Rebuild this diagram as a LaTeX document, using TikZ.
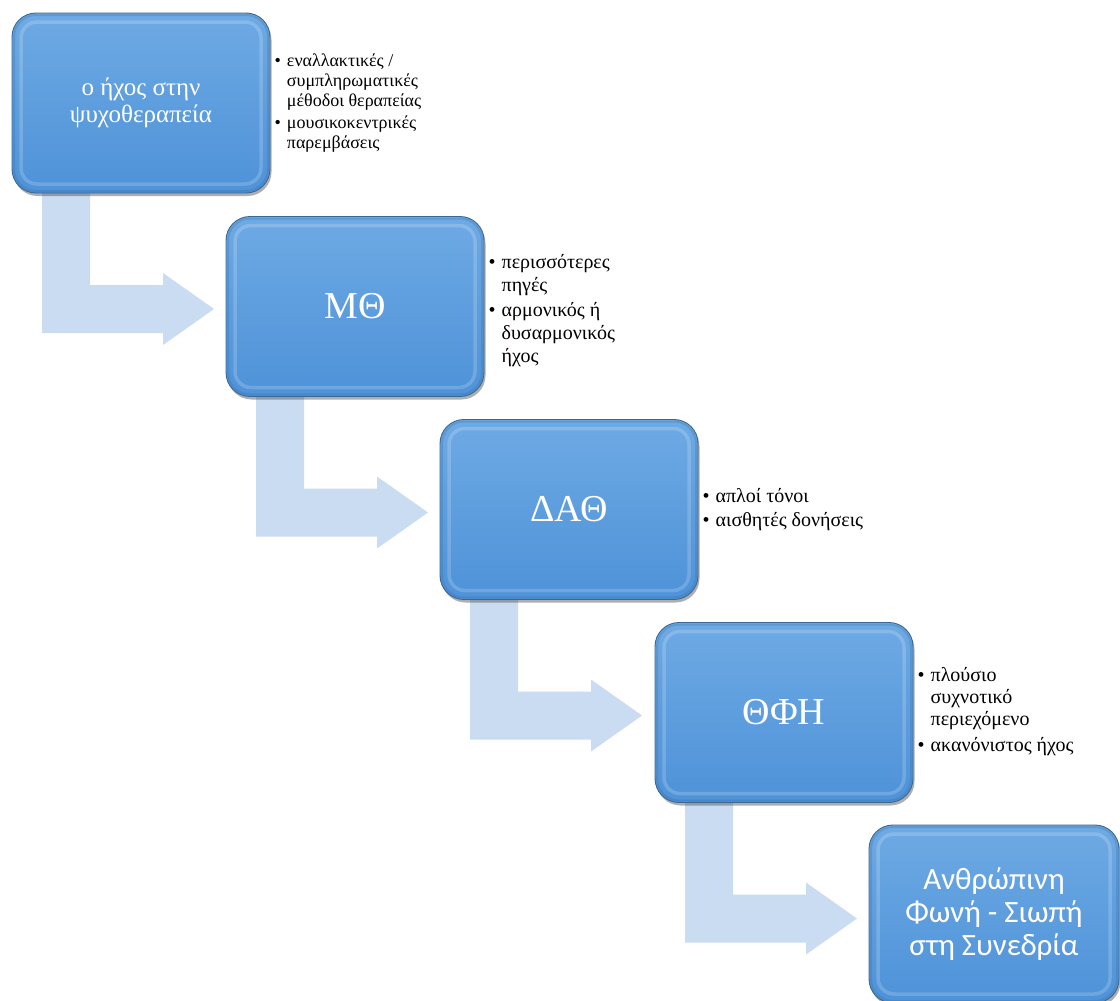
\documentclass[tikz,border=0pt]{standalone}
\usepackage{fontspec}
\setmainfont{Liberation Serif}
\newfontfamily\carlito{Carlito}
\usetikzlibrary{shadows,calc}
\definecolor{arrowfill}{RGB}{202,220,242}
\definecolor{boxtop}{RGB}{110,170,228}
\definecolor{boxbot}{RGB}{78,146,216}
\definecolor{boxedge}{RGB}{58,104,150}
\tikzset{
  stagebox/.style={draw=boxedge, line width=0.9pt, rounded corners=24pt,
    top color=boxtop, bottom color=boxbot, minimum width=258pt, minimum height=180pt,
    text=white, align=center, inner sep=0pt,
    drop shadow={shadow xshift=1.5pt, shadow yshift=-3pt, opacity=.45, fill=black!70},
    path picture={
      \draw[white, opacity=.18, line width=3.5pt, rounded corners=16pt]
        ([xshift=9pt,yshift=-9pt]path picture bounding box.north west) rectangle
        ([xshift=-9pt,yshift=9pt]path picture bounding box.south east);
      \draw[boxedge, opacity=.25, line width=2pt, rounded corners=22pt]
        ([xshift=2pt,yshift=-2pt]path picture bounding box.north west) rectangle
        ([xshift=-2pt,yshift=2pt]path picture bounding box.south east);
    }},
  bigtxt/.style={font=\fontsize{38}{40}\selectfont},
  bullets/.style={anchor=west, inner sep=0pt, align=left, text=black},
  bentarrow/.style={fill=arrowfill, draw=none}
}
\begin{document}
\begin{tikzpicture}[x=1pt,y=-1pt]
\useasboundingbox[fill=white] (0,0) rectangle (1120,1001);

\path (141,103) coordinate (c1) (355,306.5) coordinate (c2) (569,509.5) coordinate (c3)
      (784,712.5) coordinate (c4);

% bent arrows (behind boxes)
\foreach \c in {c1,c2,c3,c4}{
  \fill[bentarrow, shift={(\c)}]
    (-99,40) -- (-51,40) -- (-51,182) -- (22,182) -- (22,170) -- (73,206)
    -- (22,242) -- (22,230) -- (-99,230) -- cycle;
}

\node[stagebox, font=\fontsize{25}{27}\selectfont] (b1) at (c1) {ο ήχος στην\\ψυχοθεραπεία};
\node[stagebox, bigtxt] (b2) at (c2) {ΜΘ};
\node[stagebox, bigtxt] (b3) at (c3) {ΔΑΘ};
\node[stagebox, bigtxt] (b4) at (c4) {ΘΦΗ};
\node[stagebox, minimum width=250pt, minimum height=178pt, font=\carlito\fontsize{31}{33}\selectfont] (b5) at (994,914) {Ανθρώπινη\\Φωνή - Σιωπή\\στη Συνεδρία};

\node[bullets, font=\fontsize{18}{20}\selectfont] (t1) at ([xshift=4pt]b1.east)
 {\begin{tabular}{@{}l@{\hspace{6pt}}l@{}}
  \textbullet & εναλλακτικές /\\ & συμπληρωματικές\\ & μέθοδοι θεραπείας\\[2pt]
  \textbullet & μουσικοκεντρικές\\ & παρεμβάσεις
  \end{tabular}};
\node[bullets, font=\fontsize{20}{23}\selectfont] (t2) at ([xshift=4pt,yshift=-4pt]b2.east)
 {\begin{tabular}{@{}l@{\hspace{6pt}}l@{}}
  \textbullet & περισσότερες\\ & πηγές\\[2pt]
  \textbullet & αρμονικός ή\\ & δυσαρμονικός\\ & ήχος
  \end{tabular}};
\node[bullets, font=\fontsize{20}{24}\selectfont] (t3) at ([xshift=4pt]b3.east)
 {\begin{tabular}{@{}l@{\hspace{6pt}}l@{}}
  \textbullet & απλοί τόνοι\\
  \textbullet & αισθητές δονήσεις
  \end{tabular}};
\node[bullets, font=\fontsize{20}{22}\selectfont] (t4) at ([xshift=4pt]b4.east)
 {\begin{tabular}{@{}l@{\hspace{6pt}}l@{}}
  \textbullet & πλούσιο\\ & συχνοτικό\\ & περιεχόμενο\\[4pt]
  \textbullet & ακανόνιστος ήχος
  \end{tabular}};
\end{tikzpicture}
\end{document}
